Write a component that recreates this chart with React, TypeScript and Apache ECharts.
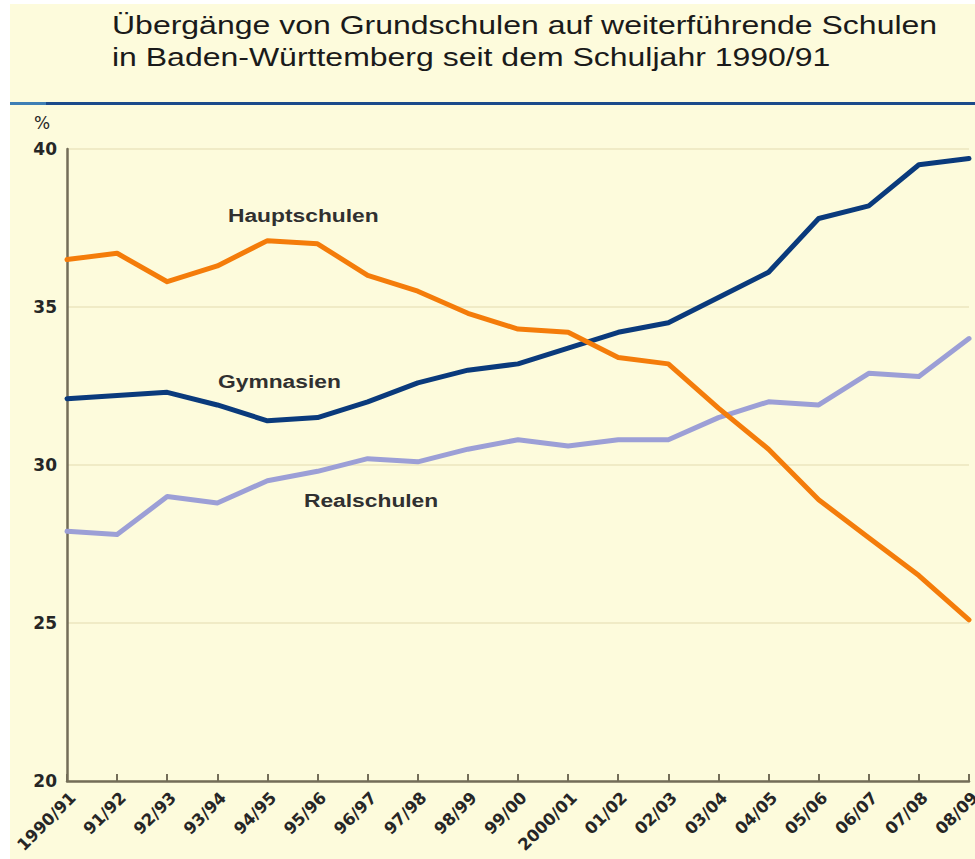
import React, { useEffect, useRef } from "react";
import * as echarts from "echarts";

const categories = [
  "1990/91", "91/92", "92/93", "93/94", "94/95", "95/96", "96/97", "97/98", "98/99", "99/00",
  "2000/01", "01/02", "02/03", "03/04", "04/05", "05/06", "06/07", "07/08", "08/09",
];
const hauptschulen = [36.5, 36.7, 35.8, 36.3, 37.1, 37.0, 36.0, 35.5, 34.8, 34.3, 34.2, 33.4, 33.2, 31.8, 30.5, 28.9, 27.7, 26.5, 25.1];
const gymnasien = [32.1, 32.2, 32.3, 31.9, 31.4, 31.5, 32.0, 32.6, 33.0, 33.2, 33.7, 34.2, 34.5, 35.3, 36.1, 37.8, 38.2, 39.5, 39.7];
const realschulen = [27.9, 27.8, 29.0, 28.8, 29.5, 29.8, 30.2, 30.1, 30.5, 30.8, 30.6, 30.8, 30.8, 31.5, 32.0, 31.9, 32.9, 32.8, 34.0];
const yMin = 20;
const yMax = 40;
const yStep = 5;
const titleLines = [
  "Übergänge von Grundschulen auf weiterführende Schulen",
  "in Baden-Württemberg seit dem Schuljahr 1990/91",
];

const FONT = '"Liberation Sans", Arial, sans-serif';
const LABEL_FONT = '"DejaVu Sans", "Liberation Sans", sans-serif';
const AXIS_COLOR = "#736d58";
const TEXT_COLOR = "#262626";

export default function App() {
  const ref = useRef<HTMLDivElement>(null);

  useEffect(() => {
    if (!ref.current) return;
    const chart = echarts.init(ref.current, null, { renderer: "svg" });
    const seriesLabel = (text: string, x: number, y: number) => ({
      type: "text",
      x,
      y,
      scaleX: 1.2,
      style: {
        text,
        fill: "#303030",
        font: `bold 19px ${FONT}`,
        textAlign: "left",
        textVerticalAlign: "middle",
      },
    });
    chart.setOption({
      animation: false,
      backgroundColor: "transparent",
      grid: {
        left: 67,
        right: 6,
        top: 149,
        bottom: 78,
        outerBoundsMode: "none",
        containLabel: false,
      },
      xAxis: {
        type: "category",
        data: categories,
        boundaryGap: false,
        axisLine: { show: true, lineStyle: { color: AXIS_COLOR, width: 2.5 } },
        axisTick: {
          show: true,
          inside: true,
          length: 7,
          lineStyle: { color: AXIS_COLOR, width: 2 },
        },
        axisLabel: {
          rotate: 45,
          interval: 0,
          margin: 8,
          verticalAlign: "top",
          color: TEXT_COLOR,
          fontFamily: LABEL_FONT,
          fontWeight: "bold",
          fontSize: 16.5,
        },
        splitLine: { show: false },
      },
      yAxis: {
        type: "value",
        min: yMin,
        max: yMax,
        interval: yStep,
        axisLine: { show: true, lineStyle: { color: AXIS_COLOR, width: 2.5 } },
        axisTick: { show: false },
        axisLabel: {
          margin: 10,
          color: TEXT_COLOR,
          fontFamily: LABEL_FONT,
          fontWeight: "bold",
          fontSize: 17,
        },
        splitLine: { show: true, lineStyle: { color: "#f0ebc6", width: 2 } },
      },
      series: [
        {
          name: "Realschulen",
          type: "line",
          data: realschulen,
          symbol: "none",
          lineStyle: { color: "#9c9fd6", width: 5, join: "round", cap: "round" },
        },
        {
          name: "Gymnasien",
          type: "line",
          data: gymnasien,
          symbol: "none",
          lineStyle: { color: "#0a3a7c", width: 5, join: "round", cap: "round" },
        },
        {
          name: "Hauptschulen",
          type: "line",
          data: hauptschulen,
          symbol: "none",
          lineStyle: { color: "#f47c0a", width: 5, join: "round", cap: "round" },
        },
      ],
      graphic: [
        {
          type: "rect",
          shape: { x: 10, y: 102, width: 965, height: 3 },
          style: { fill: "#1b4a8a" },
        },
        {
          type: "rect",
          shape: { x: 10, y: 102, width: 36, height: 3 },
          style: { fill: "#3f7fb5" },
        },
        {
          type: "text",
          x: 112,
          y: 38,
          scaleX: 1.28,
          style: {
            text: titleLines[0],
            fill: "#1a1a1a",
            font: `25px ${FONT}`,
            textAlign: "left",
            textVerticalAlign: "bottom",
          },
        },
        {
          type: "text",
          x: 112,
          y: 70,
          scaleX: 1.28,
          style: {
            text: titleLines[1],
            fill: "#1a1a1a",
            font: `25px ${FONT}`,
            textAlign: "left",
            textVerticalAlign: "bottom",
          },
        },
        {
          type: "text",
          x: 34,
          y: 123,
          style: {
            text: "%",
            fill: TEXT_COLOR,
            font: `17px ${LABEL_FONT}`,
            textAlign: "left",
            textVerticalAlign: "middle",
          },
        },
        seriesLabel("Hauptschulen", 228, 215),
        seriesLabel("Gymnasien", 218, 381),
        seriesLabel("Realschulen", 304, 500),
      ],
    });
    return () => chart.dispose();
  }, []);

  return (
    <div style={{ position: "absolute", left: 0, top: 0, width: 975, height: 859, background: "#ffffff" }}>
      <div style={{ position: "absolute", left: 10, top: 4, width: 965, height: 855, background: "#fdfbdc" }} />
      <div ref={ref} style={{ position: "absolute", left: 0, top: 0, width: 975, height: 859 }} />
    </div>
  );
}
